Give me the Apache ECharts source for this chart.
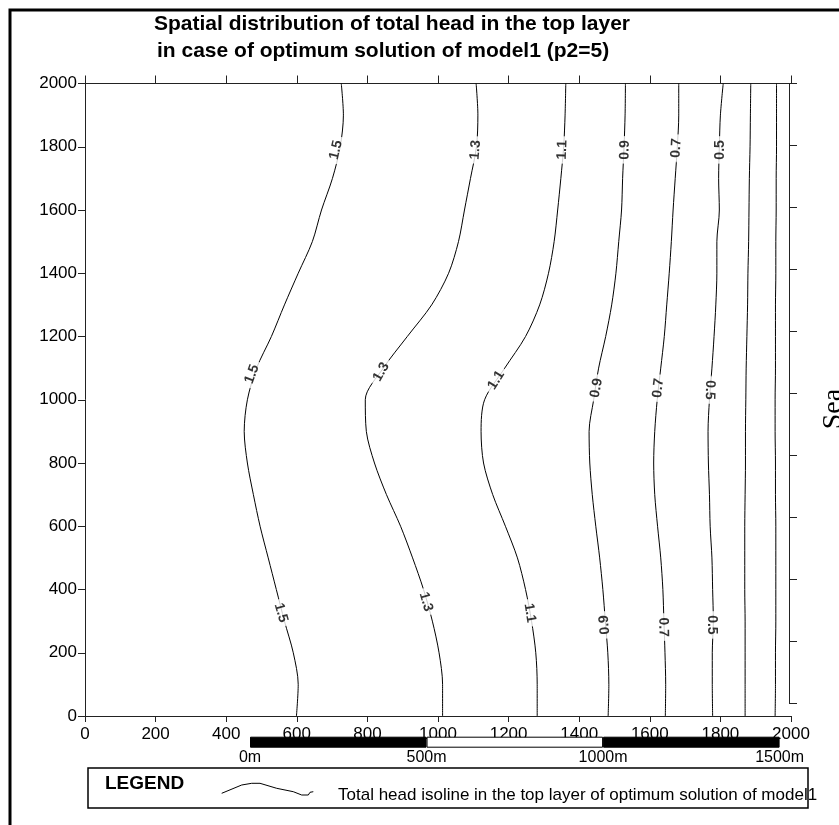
<!DOCTYPE html>
<html><head><meta charset="utf-8">
<script src="https://cdn.jsdelivr.net/npm/echarts@6/dist/echarts.min.js"></script>
<style>html,body{margin:0;padding:0;background:#fff}#c{width:839px;height:825px}</style>
</head><body><div id="c"></div>
<script>
// ---------- data ----------
const titleLine1 = 'Spatial distribution of total head in the top layer';
const titleLine2 = 'in case of optimum solution of model1 (p2=5)';
const xTicks = [0, 2000, 200];      // min, max, interval
const yTicks = [0, 2000, 200];
// y positions (m) at which each isoline x (m) is read
const yPts = [2000,1900,1800,1700,1600,1500,1400,1300,1200,1100,1000,900,800,700,600,500,400,300,200,100,0];
const iso15 = [726,732,723,701,670,644,604,565,528,486,460,451,460,477,496,519,542,565,590,604,599];
const iso13 = [1108,1113,1109,1092,1075,1058,1030,982,913,845,794,797,820,854,894,928,959,984,1003,1013,1013];
const iso11 = [1362,1360,1356,1348,1339,1329,1313,1288,1248,1189,1132,1122,1129,1155,1191,1225,1248,1265,1277,1281,1281];
const iso09 = [1531,1530,1527,1523,1520,1512,1504,1492,1475,1455,1441,1428,1430,1437,1447,1458,1467,1474,1481,1484,1482];
const iso07 = [1682,1682,1678,1672,1666,1661,1655,1648,1641,1631,1621,1614,1611,1614,1622,1631,1637,1640,1643,1645,1644];
const iso05 = [1808,1800,1797,1795,1797,1790,1790,1787,1782,1776,1769,1765,1766,1769,1771,1776,1778,1780,1777,1777,1778];
const iso03 = [1886,1885,1884,1882,1881,1880,1878,1877,1875,1873,1872,1871,1871,1870,1869,1869,1869,1870,1870,1870,1870];
const iso01 = [1959,1959,1959,1958,1958,1957,1957,1956,1956,1956,1955,1955,1956,1956,1957,1957,1957,1957,1956,1956,1955];
const isoNames = ['1.5','1.3','1.1','0.9','0.7','0.5','0.3','0.1'];
const isoValues = [iso15, iso13, iso11, iso09, iso07, iso05, iso03, iso01];
// contour labels: [x, y, text, angle]
const isoLabels = [
  [711,1790,'1.5',77],[1106,1790,'1.3',85],[1352,1790,'1.1',88],[1529,1790,'0.9',89],[1675,1796,'0.7',87],[1799,1790,'0.5',90],
  [473,1081,'1.5',70],[839,1088,'1.3',60],[1165,1062,'1.1',58],[1449,1037,'0.9',80],[1624,1037,'0.7',83],[1770,1031,'0.5',-92],
  [555,326,'1.5',-74],[966,361,'1.3',-74],[1260,326,'1.1',-81],[1472,288,'0.9',94],[1638,281,'0.7',-89],[1775,288,'0.5',-90]
];
const scaleBarStops = [0, 500, 1000, 1500];
const scaleBarFills = ['#000', '#fff', '#000'];
const seaTicks = [0, 10, 1];
const legendTitle = 'LEGEND';
const legendText = 'Total head isoline in the top layer of optimum solution of model1';
const seaText = 'Sea';

// ---------- chart ----------
const FONT = '"Liberation Sans", Arial, sans-serif';
const AX = '#222';
const plain = v => String(v);
const chart = echarts.init(document.getElementById('c'), null, {renderer: 'canvas'});

const series = isoValues.map((xs, i) => ({
  name: isoNames[i], type: 'line', xAxisIndex: 0, yAxisIndex: 0,
  data: yPts.map((y, k) => [xs[k], y]),
  showSymbol: false, smooth: 0.3, silent: true,
  lineStyle: {color: '#000', width: 1}, z: 3
}));
series.push({
  type: 'scatter', xAxisIndex: 0, yAxisIndex: 0, silent: true, z: 6,
  symbolSize: 1, itemStyle: {color: 'rgba(0,0,0,0)'},
  labelLayout: {hideOverlap: false},
  data: isoLabels.map(l => ({name: l[2], value: [l[0], l[1]], label: {rotate: l[3]}})),
  label: {show: true, position: 'inside', formatter: p => p.name, color: '#000',
    fontFamily: FONT, fontSize: 14, fontWeight: 'bold', backgroundColor: '#fff', padding: [1, 4]}
});
scaleBarFills.forEach((c, i) => {
  series.push({
    type: 'bar', xAxisIndex: 3, yAxisIndex: 2, stack: 'scalebar', silent: true, z: 8,
    barWidth: 11, data: [scaleBarStops[i + 1] - scaleBarStops[i]],
    itemStyle: {color: c, borderColor: '#000', borderWidth: 1}
  });
});

const titleStyle = {fontFamily: FONT, fontSize: 21, fontWeight: 'bold', color: '#000', lineHeight: 25};
const option = {
  backgroundColor: '#fff',
  animation: false,
  title: [
    {text: titleLine1, left: 154, top: 12, padding: 0, textStyle: titleStyle},
    {text: titleLine2, left: 157, top: 38.5, padding: 0, textStyle: titleStyle}
  ],
  grid: [
    {left: 85, top: 83.5, width: 706, height: 632.5},
    {left: 789, top: 83.5, width: 1, height: 619.5},
    {left: 250, top: 736.7, width: 529.6, height: 11}
  ],
  xAxis: [
    {gridIndex: 0, type: 'value', position: 'bottom', min: xTicks[0], max: xTicks[1], interval: xTicks[2],
      axisLine: {show: true, lineStyle: {color: AX, width: 1}}, axisTick: {show: true, length: 6, lineStyle: {color: AX}},
      axisLabel: {show: true, formatter: plain, fontFamily: FONT, fontSize: 17, color: '#000', margin: 10}, splitLine: {show: false}},
    {gridIndex: 0, type: 'value', position: 'top', min: xTicks[0], max: xTicks[1], interval: xTicks[2],
      axisLine: {show: true, lineStyle: {color: AX, width: 1}}, axisTick: {show: true, length: 8, lineStyle: {color: AX}},
      axisLabel: {show: false}, splitLine: {show: false}},
    {gridIndex: 1, type: 'value', min: 0, max: 1, show: false},
    {gridIndex: 2, type: 'value', min: scaleBarStops[0], max: scaleBarStops[3], interval: 500, position: 'bottom',
      axisLine: {show: false}, axisTick: {show: false}, splitLine: {show: false},
      axisLabel: {show: true, formatter: v => v + 'm', fontFamily: FONT, fontSize: 16, color: '#000', margin: 2}}
  ],
  yAxis: [
    {gridIndex: 0, type: 'value', position: 'left', min: yTicks[0], max: yTicks[1], interval: yTicks[2],
      axisLine: {show: true, lineStyle: {color: AX, width: 1}}, axisTick: {show: true, length: 7, lineStyle: {color: AX}},
      axisLabel: {show: true, formatter: plain, fontFamily: FONT, fontSize: 17, color: '#000', margin: 8}, splitLine: {show: false}},
    {gridIndex: 1, type: 'value', position: 'left', min: seaTicks[0], max: seaTicks[1], interval: seaTicks[2],
      axisLine: {show: true, lineStyle: {color: AX, width: 1}}, axisTick: {show: true, inside: true, length: 8, lineStyle: {color: AX}},
      axisLabel: {show: false}, splitLine: {show: false}},
    {gridIndex: 2, type: 'category', data: ['scale'], show: false}
  ],
  series: series,
  graphic: [
    {type: 'rect', z: 100, silent: true, shape: {x: 10, y: 10, width: 1000, height: 1000},
      style: {fill: 'none', stroke: '#000', lineWidth: 3}},
    {type: 'rect', z: 100, silent: true, shape: {x: 88, y: 768, width: 720, height: 40},
      style: {fill: 'none', stroke: '#000', lineWidth: 1.5}},
    {type: 'text', z: 100, silent: true, x: 105, y: 784,
      style: {text: legendTitle, fontFamily: FONT, fontSize: 19, fontWeight: 'bold', fill: '#000', textVerticalAlign: 'middle', textAlign: 'left'}},
    {type: 'polyline', z: 100, silent: true,
      shape: {points: [[221.7,793.3],[241.7,785],[251.7,783.3],[260,783.3],[276.7,788.3],[293.3,791.7],[301.7,795],[308.3,795],[310,792.3],[313.3,791.7]]},
      style: {stroke: '#000', lineWidth: 1, fill: 'none'}},
    {type: 'text', z: 100, silent: true, x: 338, y: 795.5,
      style: {text: legendText, fontFamily: FONT, fontSize: 17, fill: '#000', textVerticalAlign: 'middle', textAlign: 'left'}},
    {type: 'text', z: 100, silent: true, x: 834, y: 409, rotation: Math.PI / 2,
      style: {text: seaText, fontFamily: '"Liberation Serif", "Times New Roman", serif', fontSize: 28, fill: '#000', textVerticalAlign: 'middle', textAlign: 'center'}}
  ]
};
chart.setOption(option);
</script>
</body></html>
